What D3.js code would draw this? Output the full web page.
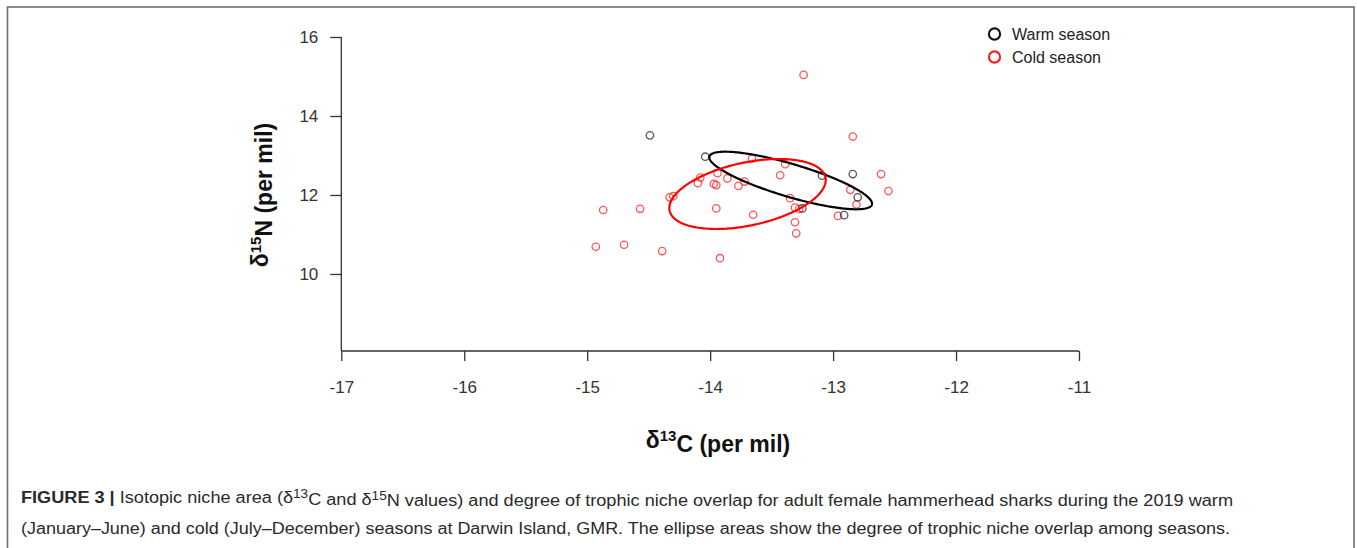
<!DOCTYPE html>
<html>
<head>
<meta charset="utf-8">
<script src="https://cdn.jsdelivr.net/npm/d3@7"></script>
<style>
  html, body { margin: 0; padding: 0; background: #fff; }
  svg { display: block; }
</style>
</head>
<body>
<svg id="chart" width="1357" height="548"></svg>
<script>
// δ13C / δ15N values (per mil) for each season
const warmC = [-14.49, -14.04, -13.09, -12.84, -12.80, -12.91, -13.25];
const warmN = [13.51, 12.97, 12.49, 12.53, 11.94, 11.49, 11.66];

const coldC = [-13.24, -12.84, -13.66, -13.39, -13.43, -13.94, -14.08, -14.10, -13.97, -13.95,
               -13.86, -13.77, -13.72, -14.33, -14.30, -14.87, -14.57, -13.95, -13.65, -13.35,
               -13.31, -13.275, -13.31, -13.30, -12.86, -12.81, -12.96, -12.61, -12.55, -14.93,
               -14.70, -14.39, -13.92];
const coldN = [15.04, 13.48, 12.92, 12.78, 12.50, 12.55, 12.44, 12.30, 12.28, 12.25,
               12.42, 12.23, 12.34, 11.94, 11.97, 11.62, 11.65, 11.66, 11.50, 11.92,
               11.68, 11.65, 11.31, 11.03, 12.13, 11.76, 11.47, 12.53, 12.10, 10.69,
               10.74, 10.58, 10.40];

// Standard ellipses: centre, SD in each isotope, correlation
const seasons = ["Warm season", "Cold season"];
const ellipseCx = [-13.345, -13.696];
const ellipseCy = [12.367, 12.025];
const ellipseSx = [0.662, 0.636];
const ellipseSy = [0.729, 0.886];
const ellipseR = [-0.805, 0.40];

const xTicks = [-17, -16, -15, -14, -13, -12, -11];
const yTicks = [10, 12, 14, 16];

const colors = ["#000000", "#ff0000"];
const pointColors = ["#3a3a3a", "#ff2a2a"];

const svg = d3.select("#chart");

// frame around the figure
svg.append("rect")
  .attr("x", 7.5).attr("y", 7)
  .attr("width", 1346.5).attr("height", 560)
  .attr("fill", "none").attr("stroke", "#6e6e6e").attr("stroke-width", 1.6);

const x = d3.scaleLinear().domain([-17, -11]).range([341.3, 1079]);
const y = d3.scaleLinear().domain([8.05, 16]).range([351, 37]);

// plain hyphen-minus tick labels
const fmt = d => String(d);

// axes
const xAxis = svg.append("g")
  .attr("transform", `translate(0,${y(8.05)})`)
  .call(d3.axisBottom(x).tickValues(xTicks).tickSize(10).tickPadding(20).tickFormat(fmt));
const yAxis = svg.append("g")
  .attr("transform", `translate(${x(-17)},0)`)
  .call(d3.axisLeft(y).tickValues(yTicks).tickSize(11).tickPadding(12).tickFormat(fmt));

yAxis.select(".domain").attr("d", `M-0,${y(16)}V${y(8.05)}`);
xAxis.select(".domain").attr("d", `M${x(-17)},0H${x(-11)}`);

[xAxis, yAxis].forEach(g => {
  g.selectAll(".domain").attr("stroke", "#333").attr("stroke-width", 1.3);
  g.selectAll(".tick line").attr("stroke", "#333").attr("stroke-width", 1.3);
  g.selectAll(".tick text")
    .attr("fill", "#333")
    .style("font-family", "'Liberation Sans', Arial, sans-serif")
    .style("font-size", "17px");
});

// axis titles
const titleFont = "'Liberation Sans', Arial, sans-serif";
const xt = svg.append("text")
  .attr("x", 718).attr("y", 448)
  .attr("text-anchor", "middle")
  .style("font-family", titleFont).style("font-size", "23px").style("font-weight", "bold")
  .attr("fill", "#111");
xt.append("tspan").text("δ");
xt.append("tspan").attr("dy", "-0.45em").style("font-size", "15px").text("13");
xt.append("tspan").attr("dy", "0.45em").text("C (per mil)");

const yt = svg.append("text")
  .attr("transform", "translate(268,195) rotate(-90)")
  .attr("text-anchor", "middle")
  .style("font-family", titleFont).style("font-size", "23px").style("font-weight", "bold")
  .attr("fill", "#111");
yt.append("tspan").text("δ");
yt.append("tspan").attr("dy", "-0.45em").style("font-size", "15px").text("15");
yt.append("tspan").attr("dy", "0.45em").text("N (per mil)");

// data points
const warm = warmC.map((c, i) => ({ c, n: warmN[i] }));
const cold = coldC.map((c, i) => ({ c, n: coldN[i] }));

svg.append("g").selectAll("circle").data(cold).join("circle")
  .attr("cx", d => x(d.c)).attr("cy", d => y(d.n)).attr("r", 3.7)
  .attr("fill", "none").attr("stroke", pointColors[1]).attr("stroke-width", 1.3)
  .attr("stroke-opacity", 0.8);

svg.append("g").selectAll("circle").data(warm).join("circle")
  .attr("cx", d => x(d.c)).attr("cy", d => y(d.n)).attr("r", 3.7)
  .attr("fill", "none").attr("stroke", pointColors[0]).attr("stroke-width", 1.3)
  .attr("stroke-opacity", 0.85);

// standard ellipses
const line = d3.line().x(d => x(d[0])).y(d => y(d[1])).curve(d3.curveLinearClosed);
seasons.forEach((s, k) => {
  const pts = d3.range(0, 2 * Math.PI, Math.PI / 120).map(t => {
    const r = ellipseR[k];
    return [
      ellipseCx[k] + ellipseSx[k] * Math.cos(t),
      ellipseCy[k] + ellipseSy[k] * (r * Math.cos(t) + Math.sqrt(1 - r * r) * Math.sin(t))
    ];
  });
  svg.append("path")
    .attr("d", line(pts))
    .attr("fill", "none").attr("stroke", colors[k]).attr("stroke-width", 2.2);
});

// legend
const legend = svg.append("g");
seasons.forEach((s, k) => {
  const ly = 34 + k * 23;
  legend.append("circle")
    .attr("cx", 994.5).attr("cy", ly).attr("r", 5.6)
    .attr("fill", "none").attr("stroke", k === 0 ? "#111" : "#ff1a1a").attr("stroke-width", 2.1);
  legend.append("text")
    .attr("x", 1012).attr("y", ly + 6)
    .style("font-family", titleFont).style("font-size", "16px")
    .attr("fill", "#222").text(s);
});

// caption
const capFont = "'Liberation Sans', Arial, sans-serif";
const cap1 = svg.append("text")
  .attr("x", 21).attr("y", 503)
  .attr("textLength", 1212).attr("lengthAdjust", "spacingAndGlyphs")
  .style("font-family", capFont).style("font-size", "16px").attr("fill", "#2a2a2a");
cap1.append("tspan").style("font-weight", "bold").text("FIGURE 3 | ");
cap1.append("tspan").text("Isotopic niche area (δ");
cap1.append("tspan").attr("dy", "-0.4em").style("font-size", "12px").text("13");
cap1.append("tspan").attr("dy", "0.4em").text("C and δ");
cap1.append("tspan").attr("dy", "-0.4em").style("font-size", "12px").text("15");
cap1.append("tspan").attr("dy", "0.4em").text("N values) and degree of trophic niche overlap for adult female hammerhead sharks during the 2019 warm");

svg.append("text")
  .attr("x", 21).attr("y", 534)
  .attr("textLength", 1209).attr("lengthAdjust", "spacingAndGlyphs")
  .style("font-family", capFont).style("font-size", "16px").attr("fill", "#2a2a2a")
  .text("(January–June) and cold (July–December) seasons at Darwin Island, GMR. The ellipse areas show the degree of trophic niche overlap among seasons.");
</script>
</body>
</html>
